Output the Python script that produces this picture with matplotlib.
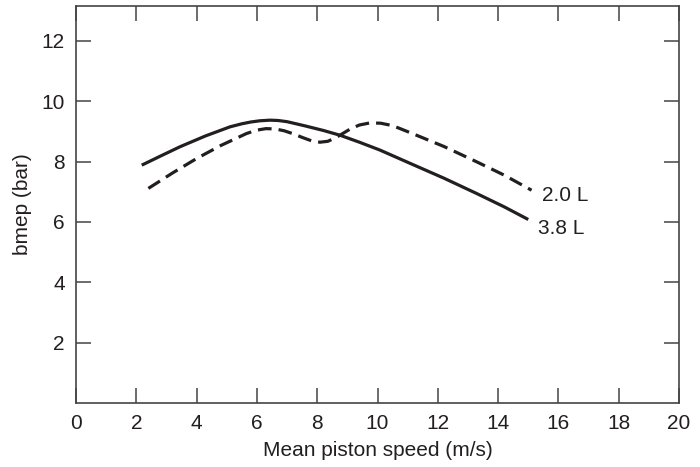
import matplotlib
matplotlib.use("Agg")
import matplotlib.pyplot as plt

plt.rcParams['font.family'] = ['Liberation Sans', 'DejaVu Sans']

# 3.8 L engine (solid)
speed_38 = [2.18, 2.8, 3.45, 4.3, 5.11, 5.5, 5.8, 6.1, 6.43, 6.7, 7.0, 7.6, 8.2, 8.76, 9.4, 10.08, 11.08, 12.2, 13.29, 14.2, 15.0]
bmep_38 = [7.88, 8.18, 8.49, 8.85, 9.15, 9.25, 9.31, 9.35, 9.37, 9.36, 9.32, 9.18, 9.03, 8.87, 8.64, 8.38, 7.94, 7.45, 6.94, 6.50, 6.08]

# 2.0 L engine (dashed)
speed_20 = [2.4, 3.2, 4.0, 4.8, 5.66, 6.0, 6.3, 6.6, 6.9, 7.2, 7.5, 7.8, 8.09, 8.35, 8.6, 8.85, 9.1, 9.4, 9.75, 10.1, 10.5, 11.1, 12.2, 13.29, 14.2, 15.11]
bmep_20 = [7.11, 7.62, 8.10, 8.53, 8.93, 9.04, 9.09, 9.08, 9.02, 8.92, 8.80, 8.69, 8.64, 8.67, 8.78, 8.93, 9.08, 9.21, 9.28, 9.27, 9.19, 8.95, 8.50, 7.99, 7.55, 7.05]

labels = ["2.0 L", "3.8 L"]
label_pos = [(15.46, 6.89), (15.32, 5.77)]

xticks = [0, 2, 4, 6, 8, 10, 12, 14, 16, 18, 20]
yticks = [2, 4, 6, 8, 10, 12]

fig = plt.figure(figsize=(7, 4.67), dpi=100)
ax = fig.add_axes([0.1086, 0.137, 0.8614, 0.850])

line_col = '#231f20'
ax.plot(speed_38, bmep_38, color=line_col, lw=2.3, solid_capstyle='butt', solid_joinstyle='round')
ax.plot(speed_20, bmep_20, color=line_col, lw=2.3, dashes=(4.3, 2.2), dash_capstyle='butt', dash_joinstyle='round')

for t, (x, y) in zip(labels, label_pos):
    ax.text(x, y, t, fontsize=15, va='center', ha='left', color=line_col)

ax.set_xlim(0, 20)
ax.set_ylim(0, 13.15)
ax.set_xticks(xticks)
ax.set_yticks(yticks)
ax.tick_params(direction='in', length=11, width=1.1, color='#444444', labelsize=15,
               top=True, right=True, labelcolor=line_col)
ax.tick_params(axis='x', pad=8)
ax.tick_params(axis='y', pad=8)
for s in ax.spines.values():
    s.set_color('#444444')
    s.set_linewidth(1.2)

ax.set_xlabel('Mean piston speed (m/s)', fontsize=15, color=line_col, labelpad=6)
ax.set_ylabel('bmep (bar)', fontsize=15, color=line_col, labelpad=7)

fig.savefig('out.png', dpi=100)
